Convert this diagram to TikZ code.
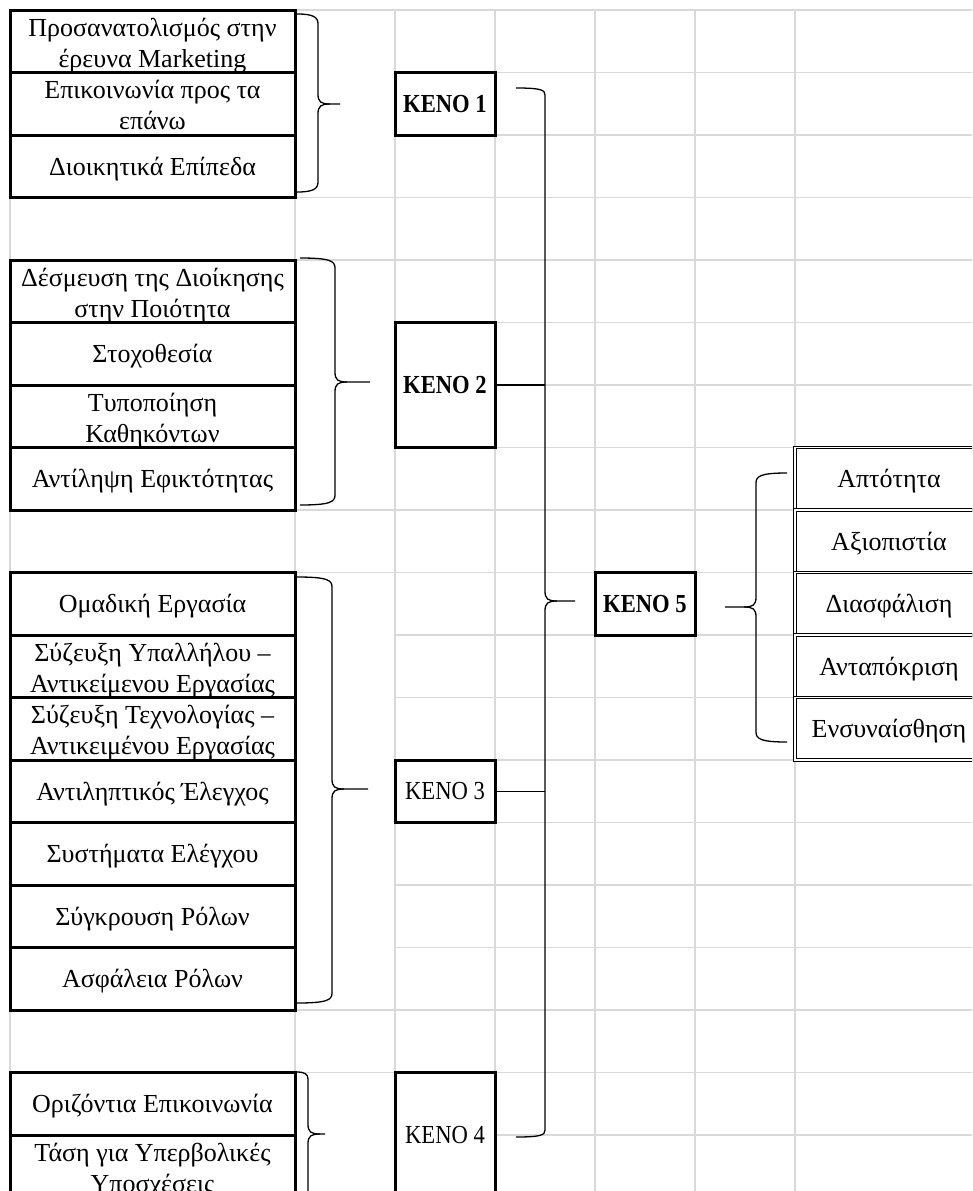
\documentclass[tikz,border=0pt]{standalone}
\usepackage{graphicx}
\usepackage{fontspec}
\setmainfont{Liberation Serif}
\usetikzlibrary{calc}

\definecolor{gridgray}{HTML}{D9D9D9}

\tikzset{
  gridline/.style={draw=gridgray, line width=1.6pt},
  cellbox/.style={draw=black, line width=3pt, fill=white, inner sep=0pt, outer sep=0pt},
  dblbox/.style={draw=black, line width=1.2pt, double=white, double distance=1.1pt,
                 fill=white, inner sep=0pt, outer sep=0pt},
  bracepath/.style={draw=black, line width=1.3pt},
  celltext/.style={font=\fontsize{26}{31}\selectfont, anchor=base, inner sep=0pt},
  kenobold/.style={cellbox, font=\fontsize{26}{31}\selectfont\bfseries},
  kenoreg/.style={cellbox, font=\fontsize{26}{31}\selectfont},
}

% narrow setting of the KENO labels
\newcommand{\kenolabel}[1]{\scalebox{0.87}[1]{#1}}

% one bordered cell of the first column: name, row, first line, second line
\newcommand{\leftcell}[4]{%
  \pgfmathsetmacro{\rowtop}{10+62.5*#2}
  \node[cellbox, anchor=north west, minimum width=285pt, minimum height=62.5pt]
    (#1) at (10,\rowtop) {};
  \begin{scope}
    \clip (#1.south west) rectangle (#1.north east);
    \if\relax\detokenize{#4}\relax
      \node[celltext] (#1-t) at ($(#1.north)+(0,40)$) {#3};
    \else
      \node[celltext] (#1-t) at ($(#1.north)+(0,26)$) {#3};
      \node[celltext] (#1-u) at ($(#1.north)+(0,57)$) {#4};
    \fi
  \end{scope}
}

% one double-bordered cell of the right column: name, row, text
\newcommand{\rightcell}[3]{%
  \pgfmathsetmacro{\rowtop}{10+62.5*#2}
  \node[dblbox, anchor=north west, minimum width=190pt, minimum height=62.5pt]
    (#1) at (795,\rowtop) {};
  \node[celltext] (#1-t) at (889,\rowtop+40) {#3};
}

% right curly brace: x of ends, top y, bottom y, x of spine, x of tip, y of tip, corner size
\newcommand{\rightbrace}[7]{%
  \draw[bracepath] (#1,#2) .. controls (#4-#7*0.5,#2) and (#4,#2+#7*0.3) .. (#4,#2+#7)
    -- (#4,#6-10) .. controls (#4,#6-2) and (#4+3,#6) .. (#4+12,#6) -- (#5,#6);
  \draw[bracepath] (#1,#3) .. controls (#4-#7*0.5,#3) and (#4,#3-#7*0.3) .. (#4,#3-#7)
    -- (#4,#6+10) .. controls (#4,#6+2) and (#4+3,#6) .. (#4+12,#6);
}

% left curly brace, mirrored
\newcommand{\leftbrace}[7]{%
  \draw[bracepath] (#1,#2) .. controls (#4+#7*0.5,#2) and (#4,#2+#7*0.3) .. (#4,#2+#7)
    -- (#4,#6-10) .. controls (#4,#6-2) and (#4-3,#6) .. (#4-12,#6) -- (#5,#6);
  \draw[bracepath] (#1,#3) .. controls (#4+#7*0.5,#3) and (#4,#3-#7*0.3) .. (#4,#3-#7)
    -- (#4,#6+10) .. controls (#4,#6+2) and (#4-3,#6) .. (#4-12,#6);
}

\begin{document}
\begin{tikzpicture}[x=1pt, y=-1pt]
\useasboundingbox (0,0) rectangle (972,1191);
\clip (0,0) rectangle (972,1191);

% spreadsheet grid
\foreach \k in {0,...,19} {
  \pgfmathsetmacro{\yy}{10+62.5*\k}
  \draw[gridline] (10,\yy) -- (295,\yy);
  \draw[gridline] (395,\yy) -- (972,\yy);
}
\foreach \k in {0,3,4,8,9,16,17} {
  \pgfmathsetmacro{\yy}{10+62.5*\k}
  \draw[gridline] (295,\yy) -- (395,\yy);
}
\foreach \x in {10,295,395,495,595,695,795}
  \draw[gridline] (\x,10) -- (\x,1191);

% first column
\leftcell{a0}{0}{Προσανατολισμός στην}{έρευνα Marketing}
\leftcell{a1}{1}{Επικοινωνία προς τα}{επάνω}
\leftcell{a2}{2}{Διοικητικά Επίπεδα}{}
\leftcell{a4}{4}{Δέσμευση της Διοίκησης}{στην Ποιότητα}
\leftcell{a5}{5}{Στοχοθεσία}{}
\leftcell{a6}{6}{Τυποποίηση}{Καθηκόντων}
\leftcell{a7}{7}{Αντίληψη Εφικτότητας}{}
\leftcell{a9}{9}{Ομαδική Εργασία}{}
\leftcell{a10}{10}{Σύζευξη Υπαλλήλου –}{Αντικείμενου Εργασίας}
\leftcell{a11}{11}{Σύζευξη Τεχνολογίας –}{Αντικειμένου Εργασίας}
\leftcell{a12}{12}{Αντιληπτικός Έλεγχος}{}
\leftcell{a13}{13}{Συστήματα Ελέγχου}{}
\leftcell{a14}{14}{Σύγκρουση Ρόλων}{}
\leftcell{a15}{15}{Ασφάλεια Ρόλων}{}
\leftcell{a17}{17}{Οριζόντια Επικοινωνία}{}
\leftcell{a18}{18}{Τάση για Υπερβολικές}{Υποσχέσεις}

% KENO boxes
\node[kenobold, anchor=north west, minimum width=100pt, minimum height=62.5pt]
  (k1) at (395,72.5) {\kenolabel{KENO 1}};
\node[kenobold, anchor=north west, minimum width=100pt, minimum height=125pt]
  (k2) at (395,322.5) {\kenolabel{KENO 2}};
\node[kenoreg, anchor=north west, minimum width=100pt, minimum height=62.5pt]
  (k3) at (395,760) {\kenolabel{KENO 3}};
\node[kenoreg, anchor=north west, minimum width=100pt, minimum height=125pt]
  (k4) at (395,1072.5) {\kenolabel{KENO 4}};
\node[kenobold, anchor=north west, minimum width=100pt, minimum height=62.5pt]
  (k5) at (595,572.5) {\kenolabel{KENO 5}};

% right column
\rightcell{g7}{7}{Απτότητα}
\rightcell{g8}{8}{Αξιοπιστία}
\rightcell{g9}{9}{Διασφάλιση}
\rightcell{g10}{10}{Ανταπόκριση}
\rightcell{g11}{11}{Ενσυναίσθηση}

% braces grouping the first column
\rightbrace{297}{14}{192}{318}{340}{104}{10}
\rightbrace{300}{258}{505}{335}{370}{382}{10}
\rightbrace{297}{577}{1003}{332}{368}{789}{10}
\rightbrace{297}{1072}{1198}{308}{325}{1134}{7}

% brace gathering KENO 1-4 into KENO 5
\rightbrace{516}{88}{1137}{545}{575}{601}{7}
\coordinate (spine) at (545,0);
\draw[bracepath] (k2.east) -- (k2.east -| spine);
\draw[bracepath] (k3.east) -- (k3.east -| spine);

% brace from KENO 5 to the right column
\leftbrace{787}{473}{742}{756}{725}{607}{10}

\end{tikzpicture}
\end{document}
